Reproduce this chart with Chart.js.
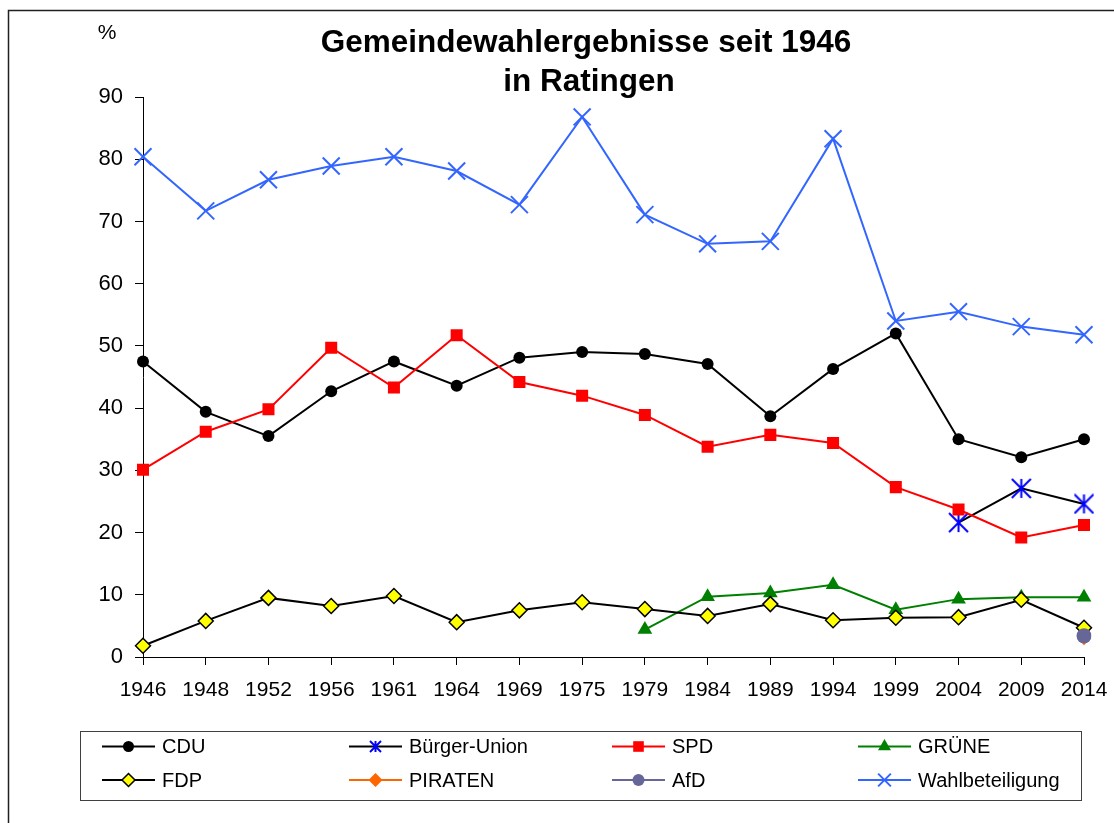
<!DOCTYPE html>
<html>
<head>
<meta charset="utf-8">
<title>Gemeindewahlergebnisse seit 1946 in Ratingen</title>
<script src="https://cdn.jsdelivr.net/npm/chart.js@4/dist/chart.umd.min.js"></script>
<style>
  html, body { margin: 0; padding: 0; background: #fff; }
  #wrap { position: relative; width: 1114px; height: 823px; }
</style>
</head>
<body>
<div id="wrap"><canvas id="wahlChart"></canvas></div>
<script>
// Wahljahre (Kategorien)
const years = ['1946', '1948', '1952', '1956', '1961', '1964', '1969', '1975',
               '1979', '1984', '1989', '1994', '1999', '2004', '2009', '2014'];

// Ergebnisse in %
const cdu      = [47.5, 39.4, 35.5, 42.7, 47.5, 43.6, 48.1, 49.0, 48.7, 47.1, 38.7, 46.3, 52.0, 35.0, 32.1, 35.0];
const buerger  = [null, null, null, null, null, null, null, null, null, null, null, null, null, 21.6, 27.1, 24.6];
const spd      = [30.1, 36.2, 39.8, 49.7, 43.3, 51.7, 44.2, 42.0, 38.9, 33.8, 35.7, 34.4, 27.3, 23.7, 19.2, 21.2];
const gruene   = [null, null, null, null, null, null, null, null, 4.4, 9.7, 10.3, 11.6, 7.6, 9.3, 9.6, 9.6];
const fdp      = [1.8, 5.8, 9.5, 8.2, 9.8, 5.6, 7.5, 8.8, 7.7, 6.6, 8.5, 5.9, 6.3, 6.4, 9.2, 4.7];
const piraten  = [null, null, null, null, null, null, null, null, null, null, null, null, null, null, null, 3.0];
const afd      = [null, null, null, null, null, null, null, null, null, null, null, null, null, null, null, 3.4];
const turnout  = [80.4, 71.7, 76.7, 78.9, 80.4, 78.1, 72.7, 86.8, 71.1, 66.4, 66.8, 83.3, 54.0, 55.5, 53.1, 51.8];

const yMin = 0, yMax = 90, yStep = 10;

const FONT = '"Liberation Sans", Arial, Helvetica, sans-serif';

// Excel-style asterisk marker (vertical bar + X), no horizontal bar
function makeAsterisk(size, color, lw) {
    const c = document.createElement('canvas');
    c.width = size; c.height = size;
    const g = c.getContext('2d');
    g.strokeStyle = color;
    g.lineWidth = lw;
    const p = lw / 2;
    g.beginPath();
    g.moveTo(size / 2, p); g.lineTo(size / 2, size - p);
    g.moveTo(p, p); g.lineTo(size - p, size - p);
    g.moveTo(size - p, p); g.lineTo(p, size - p);
    g.stroke();
    return c;
}

const asteriskBig = makeAsterisk(21, '#0000FF', 2);
const asteriskSmall = makeAsterisk(13, '#0000FF', 2);

// r = marker radius on the chart, lr = marker radius in the legend
const series = [
    { label: 'CDU', data: cdu, line: '#000000', style: 'circle', fill: '#000000', border: '#000000', r: 6, bw: 0, lr: 5.5 },
    { label: 'Bürger-Union', data: buerger, line: '#000000', style: asteriskBig, legendStyle: asteriskSmall, fill: '#0000FF', border: '#0000FF', r: 10, bw: 0, lr: 6 },
    { label: 'SPD', data: spd, line: '#FF0000', style: 'rect', fill: '#FF0000', border: '#FF0000', r: 8.5, bw: 0, lr: 7.5 },
    { label: 'GRÜNE', data: gruene, line: '#008000', style: 'triangle', fill: '#008000', border: '#008000', r: 8.5, bw: 0, lr: 7.5 },
    { label: 'FDP', data: fdp, line: '#000000', style: 'rectRot', fill: '#FFFF00', border: '#000000', r: 7.5, bw: 1.5, lr: 6.5 },
    { label: 'PIRATEN', data: piraten, line: '#FF6600', style: 'rectRot', fill: '#FF6600', border: '#FF6600', r: 7, bw: 0, lr: 7 },
    { label: 'AfD', data: afd, line: '#666699', style: 'circle', fill: '#666699', border: '#666699', r: 7.5, bw: 0, lr: 6 },
    { label: 'Wahlbeteiligung', data: turnout, line: '#3366FF', style: 'crossRot', fill: '#3366FF', border: '#3366FF', r: 12, bw: 2, lr: 9 }
];

// Title, % label, frame and the boxed 4-column legend
const decorations = {
    id: 'decorations',
    afterDraw(chart) {
        const ctx = chart.ctx;
        ctx.save();

        // outer frame
        ctx.strokeStyle = '#202020';
        ctx.lineWidth = 1.5;
        ctx.strokeRect(8.5, 10.5, 1300, 1000);

        // title
        ctx.fillStyle = '#000';
        ctx.textAlign = 'center';
        ctx.textBaseline = 'alphabetic';
        ctx.font = 'bold 31.5px ' + FONT;
        ctx.fillText('Gemeindewahlergebnisse seit 1946', 586, 52);
        ctx.fillText('in Ratingen', 589, 91);

        // unit label
        ctx.font = '21px ' + FONT;
        ctx.fillText('%', 107, 39);

        // legend box
        ctx.strokeStyle = '#404040';
        ctx.lineWidth = 1;
        ctx.strokeRect(80.5, 731.5, 1001, 69);

        const colX = [102, 349, 612, 858];
        const rowY = [746.5, 780];
        ctx.font = '20px ' + FONT;
        ctx.textAlign = 'left';
        ctx.textBaseline = 'middle';
        series.forEach((s, i) => {
            const x0 = colX[i % 4];
            const y = rowY[Math.floor(i / 4)];
            ctx.strokeStyle = s.line;
            ctx.lineWidth = 2;
            ctx.beginPath();
            ctx.moveTo(x0, y);
            ctx.lineTo(x0 + 53, y);
            ctx.stroke();

            ctx.fillStyle = s.fill;
            ctx.strokeStyle = s.border;
            ctx.lineWidth = s.bw || 1;
            Chart.helpers.drawPoint(ctx, {
                pointStyle: s.legendStyle || s.style,
                rotation: 0,
                radius: s.lr,
                borderWidth: s.bw
            }, x0 + 26.5, y);

            ctx.fillStyle = '#000';
            ctx.fillText(s.label, x0 + 60, y + 1);
        });

        ctx.restore();
    }
};

const ctx = document.getElementById('wahlChart').getContext('2d');

new Chart(ctx, {
    type: 'line',
    data: {
        labels: years,
        datasets: series.map((s, i) => ({
            label: s.label,
            data: s.data,
            borderColor: s.line,
            borderWidth: 2,
            tension: 0,
            spanGaps: false,
            pointStyle: s.style,
            pointRadius: s.r,
            pointBackgroundColor: s.fill,
            pointBorderColor: s.border,
            pointBorderWidth: s.bw,
            order: series.length - 1 - i // later series on top, like the original
        }))
    },
    options: {
        responsive: true,
        maintainAspectRatio: false,
        animation: false,
        events: [],
        layout: {
            padding: { left: 0, right: 30, top: 97, bottom: 0 }
        },
        plugins: {
            legend: { display: false },
            title: { display: false },
            tooltip: { enabled: false }
        },
        scales: {
            x: {
                type: 'category',
                offset: false,
                grid: {
                    offset: false,
                    drawOnChartArea: false,
                    drawTicks: true,
                    tickLength: 8,
                    color: '#000'
                },
                border: { display: true, color: '#000', width: 1 },
                ticks: {
                    color: '#000',
                    font: { family: FONT, size: 21 },
                    padding: 13,
                    maxRotation: 0,
                    autoSkip: false
                },
                afterFit(scale) {
                    scale.height = 166;
                    // keep the plot edges fixed, labels may overhang
                    scale.paddingLeft = 0;
                    scale.paddingRight = 0;
                }
            },
            y: {
                min: yMin,
                max: yMax,
                grid: {
                    drawOnChartArea: false,
                    drawTicks: true,
                    tickLength: 8,
                    color: '#000'
                },
                border: { display: true, color: '#000', width: 1 },
                ticks: {
                    stepSize: yStep,
                    color: '#000',
                    font: { family: FONT, size: 22 },
                    padding: 12
                },
                afterFit(scale) { scale.width = 143; }
            }
        }
    },
    plugins: [decorations]
});
</script>
</body>
</html>
